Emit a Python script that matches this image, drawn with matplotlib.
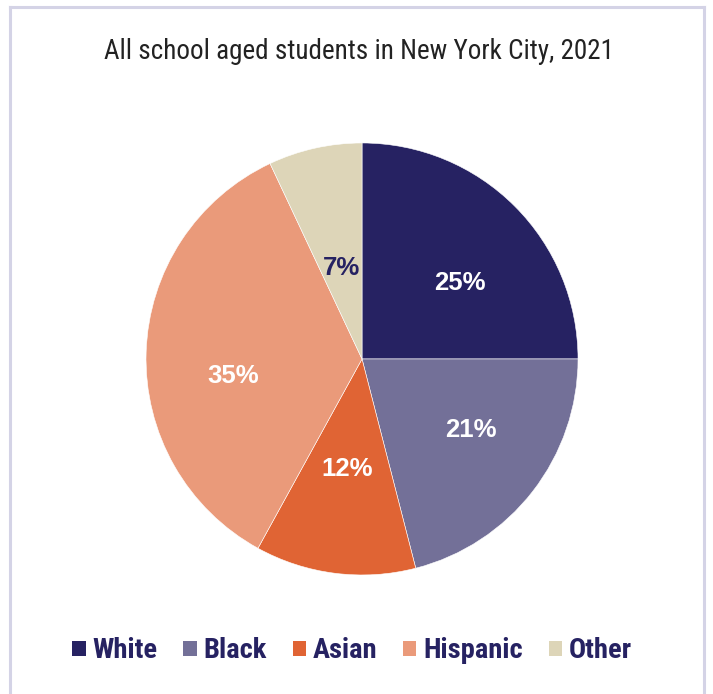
import numpy as np
import matplotlib
matplotlib.use("Agg")
import matplotlib.pyplot as plt
from matplotlib.lines import Line2D
from matplotlib.patches import Patch

groups = ["White", "Black", "Asian", "Hispanic", "Other"]
shares = [25, 21, 12, 35, 7]
colors = ["#262262", "#737098", "#e06434", "#ea9a7a", "#ddd5b8"]
label_colors = ["white", "white", "white", "white", "#262262"]
# where each percentage sits: fraction of the radius and a nudge off the mid angle (deg)
label_radius = [0.574, 0.602, 0.514, 0.602, 0.432]
label_nudge = [-7.2, 4.7, -0.6, 9.3, 0.4]

navy = "#262262"
frame = "#d4d3e6"
narrow = ["Roboto Condensed", "Roboto", "DejaVu Sans"]

fig = plt.figure(figsize=(7.13, 6.94), dpi=100)

# light frame on left, top and right
for xs, ys in [([0.014, 0.014], [0, 0.99]), ([0.014, 0.987], [0.99, 0.99]), ([0.987, 0.987], [0, 0.99])]:
    fig.add_artist(Line2D(xs, ys, color=frame, lw=2.2, transform=fig.transFigure))

fig.text(0.503, 0.926, "All school aged students in New York City, 2021",
         ha="center", va="center", fontsize=19.5, color="#222222", family=narrow)

ax = fig.add_axes([0.2048, 0.1715, 0.6059, 0.6225])
wedges, _ = ax.pie(shares, colors=colors, startangle=90, counterclock=False,
                   radius=1, wedgeprops=dict(linewidth=0.4, edgecolor="white"))
ax.set_xlim(-1, 1)
ax.set_ylim(-1, 1)
ax.set_aspect("equal")
ax.axis("off")

for w, val, c, r, nd in zip(wedges, shares, label_colors, label_radius, label_nudge):
    mid = np.deg2rad((w.theta1 + w.theta2) / 2 + nd)
    ax.text(r * np.cos(mid), r * np.sin(mid), f"{val}%", ha="center", va="center",
            fontsize=18.5, fontweight="bold", color=c,
            family=["Liberation Sans", "DejaVu Sans"])

handles = [Patch(facecolor=c, edgecolor="none") for c in colors]
leg = fig.legend(handles, groups, loc="center", bbox_to_anchor=(0.494, 0.062), ncol=5,
                 frameon=False, handlelength=0.46, handleheight=0.46, handletextpad=0.25,
                 columnspacing=0.9, prop={"family": narrow, "weight": "bold", "size": 20.5})
for t in leg.get_texts():
    t.set_color(navy)

fig.savefig("out.png", dpi=100, facecolor="white")
